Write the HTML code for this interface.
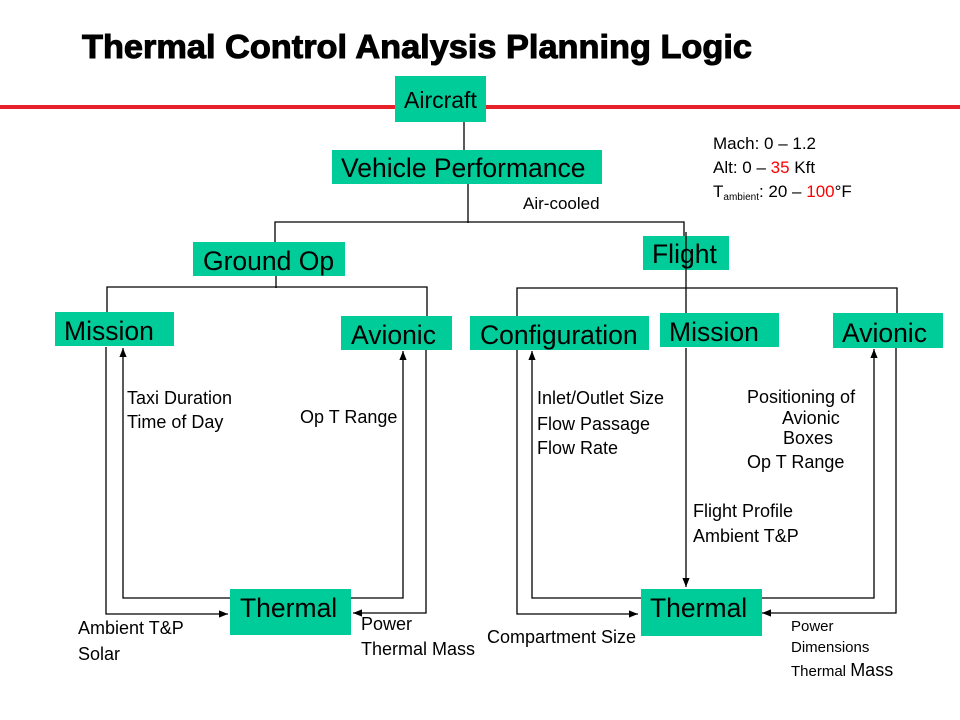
<!DOCTYPE html>
<html><head><meta charset="utf-8"><style>
html,body{margin:0;padding:0;background:#fff;}
svg{display:block;font-family:"Liberation Sans",Arial,sans-serif;}
</style></head><body>
<svg width="960" height="720" viewBox="0 0 960 720" xmlns="http://www.w3.org/2000/svg">
<defs>
<marker id="a" viewBox="0 0 10 10" refX="10" refY="5" markerWidth="7" markerHeight="7" orient="auto"><path d="M0,1 L10,5 L0,9 z" fill="#000"/></marker>
</defs>
<text x="82" y="58" font-size="33" font-weight="bold" fill="#000" stroke="#000" stroke-width="1" textLength="670" lengthAdjust="spacingAndGlyphs">Thermal Control Analysis Planning Logic</text>
<rect x="0" y="105" width="960" height="4" fill="#e8202a"/>
<g stroke="#000" stroke-width="1.3" fill="none">
<line x1="464" y1="122" x2="464" y2="150"/>
<line x1="468" y1="184" x2="468" y2="223"/>
<polyline points="275,242 275,222 684,222 684,236"/>
<line x1="276" y1="276" x2="276" y2="288"/>
<polyline points="107,313 107,287 427,287 427,316"/>
<polyline points="106,347 106,614 228,614" marker-end="url(#a)"/>
<polyline points="232,598 123,598 123,348" marker-end="url(#a)"/>
<polyline points="351,598 403,598 403,351" marker-end="url(#a)"/>
<polyline points="426,350 426,613 353,613" marker-end="url(#a)"/>
<line x1="686" y1="232" x2="686" y2="313"/>
<polyline points="517,320 517,288 897,288 897,313"/>
<polyline points="517,350 517,614 638,614" marker-end="url(#a)"/>
<polyline points="641,598 532,598 532,351" marker-end="url(#a)"/>
<line x1="686" y1="348" x2="686" y2="587" marker-end="url(#a)"/>
<polyline points="762,598 874,598 874,349" marker-end="url(#a)"/>
<polyline points="896,348 896,613 762,613" marker-end="url(#a)"/>
</g>
<g fill="#00cc99">
<rect x="395" y="76" width="91" height="46"/>
<rect x="332" y="150" width="270" height="34"/>
<rect x="193" y="242" width="152" height="34"/>
<rect x="55" y="312" width="119" height="34"/>
<rect x="341" y="316" width="111" height="34"/>
<rect x="230" y="589" width="121" height="46"/>
<rect x="643" y="236" width="86" height="34"/>
<rect x="470" y="316" width="179" height="34"/>
<rect x="660" y="313" width="119" height="34"/>
<rect x="833" y="313" width="110" height="35"/>
<rect x="641" y="589" width="121" height="47"/>
</g>
<line x1="686" y1="236" x2="686" y2="270" stroke="#000" stroke-width="1.3"/>
<g font-size="26.5" fill="#000">
<text x="404" y="108" font-size="23">Aircraft</text>
<text x="341" y="177">Vehicle Performance</text>
<text x="203" y="270">Ground Op</text>
<text x="64" y="340">Mission</text>
<text x="351" y="344">Avionic</text>
<text x="240" y="617">Thermal</text>
<text x="652" y="263">Flight</text>
<text x="480" y="344">Configuration</text>
<text x="669" y="341">Mission</text>
<text x="842" y="342">Avionic</text>
<text x="650" y="617">Thermal</text>
</g>
<g font-size="18" fill="#000">
<text x="523" y="209" font-size="17">Air-cooled</text>
<text x="713" y="149" font-size="17">Mach: 0 – 1.2</text>
<text x="713" y="173" font-size="17">Alt: 0 – <tspan fill="#ff0000">35</tspan> Kft</text>
<text x="713" y="197" font-size="17">T<tspan font-size="10" dy="3">ambient</tspan><tspan dy="-3">: 20 – </tspan><tspan fill="#ff0000">100</tspan>°F</text>
<text x="127" y="404">Taxi Duration</text>
<text x="127" y="428">Time of Day</text>
<text x="300" y="423">Op T Range</text>
<text x="78" y="634">Ambient T&amp;P</text>
<text x="78" y="660">Solar</text>
<text x="361" y="630">Power</text>
<text x="361" y="655">Thermal Mass</text>
<text x="537" y="404">Inlet/Outlet Size</text>
<text x="537" y="430">Flow Passage</text>
<text x="537" y="454">Flow Rate</text>
<text x="747" y="403">Positioning of</text>
<text x="782" y="424">Avionic</text>
<text x="783" y="444">Boxes</text>
<text x="747" y="468">Op T Range</text>
<text x="693" y="517">Flight Profile</text>
<text x="693" y="542">Ambient T&amp;P</text>
<text x="487" y="643">Compartment Size</text>
<text x="791" y="631" font-size="15">Power</text>
<text x="791" y="652" font-size="15">Dimensions</text>
<text x="791" y="676"><tspan font-size="15">Thermal </tspan>Mass</text>
</g>
</svg>
</body></html>
